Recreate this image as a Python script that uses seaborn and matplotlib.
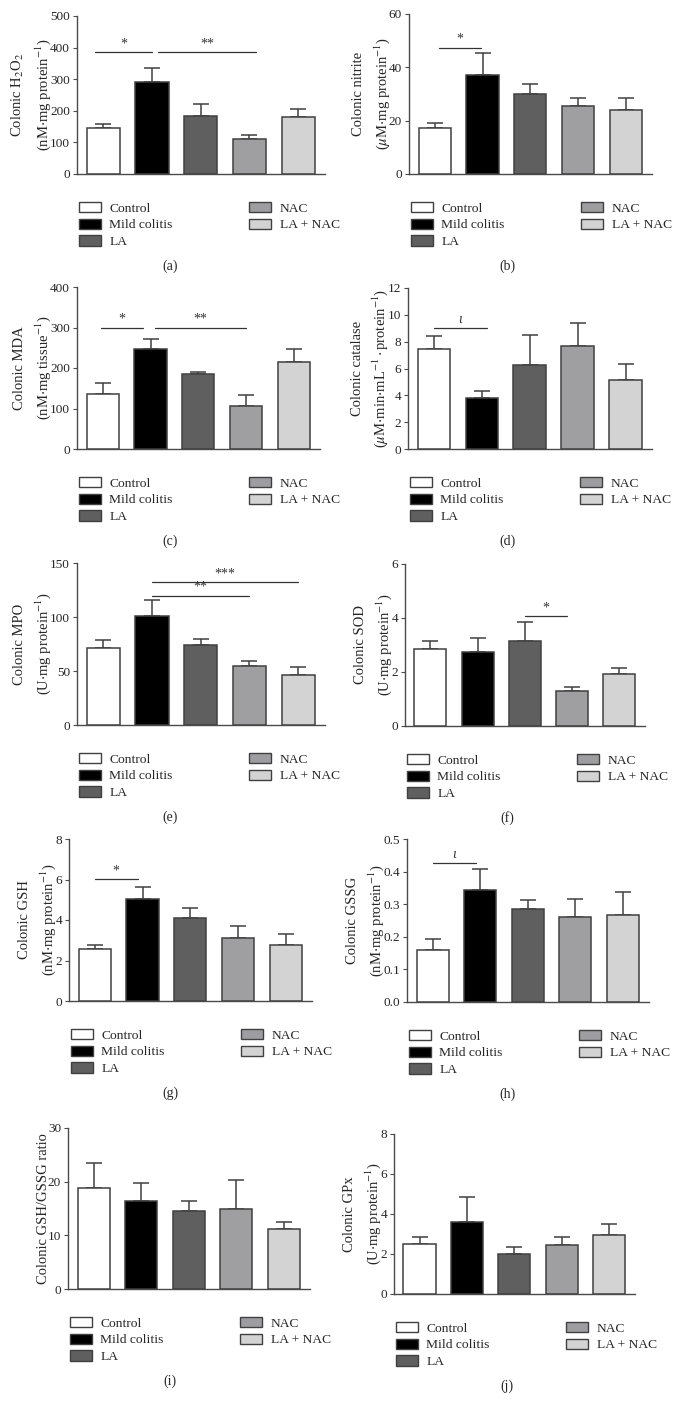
import numpy as np
import pandas as pd
import matplotlib
matplotlib.use("Agg")
import matplotlib.pyplot as plt
from matplotlib.patches import Patch
import seaborn as sns

groups = ["Control", "Mild colitis", "LA", "NAC", "LA + NAC"]
colors = ["#ffffff", "#000000", "#5f5f5f", "#9e9ea2", "#d3d3d3"]

# values (mean) and upper error bar ends
h2o2_mean = [147, 290, 185, 111, 179]
h2o2_top = [159, 337, 222, 124, 207]
nitrite_mean = [17.2, 37.2, 30.0, 25.5, 24.0]
nitrite_top = [19.0, 45.4, 33.9, 28.4, 28.5]
mda_mean = [137, 247, 184, 106, 216]
mda_top = [162, 272, 191, 133, 247]
catalase_mean = [7.45, 3.82, 6.27, 7.7, 5.15]
catalase_top = [8.45, 4.32, 8.5, 9.4, 6.35]
mpo_mean = [71.7, 100.8, 73.9, 54.6, 46.4]
mpo_top = [78.8, 115.3, 79.2, 59.0, 53.5]
sod_mean = [2.85, 2.73, 3.16, 1.28, 1.91]
sod_top = [3.16, 3.26, 3.85, 1.43, 2.15]
gsh_mean = [2.58, 5.04, 4.1, 3.13, 2.78]
gsh_top = [2.78, 5.65, 4.59, 3.7, 3.31]
gssg_mean = [0.160, 0.344, 0.284, 0.262, 0.268]
gssg_top = [0.193, 0.408, 0.314, 0.316, 0.336]
ratio_mean = [18.8, 16.4, 14.6, 14.9, 11.2]
ratio_top = [23.4, 19.7, 16.4, 20.3, 12.4]
gpx_mean = [2.49, 3.61, 2.01, 2.43, 2.94]
gpx_top = [2.86, 4.86, 2.36, 2.83, 3.51]

ylabels = [
    "Colonic H$_2$O$_2$\n(nM$\\cdot$mg protein$^{-1}$)",
    "Colonic nitrite\n($\\mu$M$\\cdot$mg protein$^{-1}$)",
    "Colonic MDA\n(nM$\\cdot$mg tissue$^{-1}$)",
    "Colonic catalase\n($\\mu$M$\\cdot$min$\\cdot$mL$^{-1}\\cdot$protein$^{-1}$)",
    "Colonic MPO\n(U$\\cdot$mg protein$^{-1}$)",
    "Colonic SOD\n(U$\\cdot$mg protein$^{-1}$)",
    "Colonic GSH\n(nM$\\cdot$mg protein$^{-1}$)",
    "Colonic GSSG\n(nM$\\cdot$mg protein$^{-1}$)",
    "Colonic GSH/GSSG ratio",
    "Colonic GPx\n(U$\\cdot$mg protein$^{-1}$)",
]
yticks = [
    [0, 100, 200, 300, 400, 500],
    [0, 20, 40, 60],
    [0, 100, 200, 300, 400],
    [0, 2, 4, 6, 8, 10, 12],
    [0, 50, 100, 150],
    [0, 2, 4, 6],
    [0, 2, 4, 6, 8],
    [0.0, 0.1, 0.2, 0.3, 0.4, 0.5],
    [0, 10, 20, 30],
    [0, 2, 4, 6, 8],
]
ytick_labels = [None] * 7 + [["0.0", "0.1", "0.2", "0.3", "0.4", "0.5"], None, None]
captions = ["(a)", "(b)", "(c)", "(d)", "(e)", "(f)", "(g)", "(h)", "(i)", "(j)"]
means = [h2o2_mean, nitrite_mean, mda_mean, catalase_mean, mpo_mean,
         sod_mean, gsh_mean, gssg_mean, ratio_mean, gpx_mean]
tops = [h2o2_top, nitrite_top, mda_top, catalase_top, mpo_top,
        sod_top, gsh_top, gssg_top, ratio_top, gpx_top]
# significance: (from, to, level, label)
sig = [
    [(-0.17, 1.0, 385, "*"), (1.13, 3.13, 385, "**")],
    [(0.08, 0.96, 47.3, "*")],
    [(-0.04, 0.85, 300, "*"), (1.09, 2.99, 300, "**")],
    [(0.0, 1.1, 9.0, "ι")],
    [(1.0, 4.0, 132, "***"), (1.0, 3.0, 119.5, "**")],
    [(2.0, 2.9, 4.07, "*")],
    [(0.0, 0.9, 6.02, "*")],
    [(0.0, 0.92, 0.426, "ι")],
    [],
    [],
]

# axes extents in pixels: left, right, top, bottom
boxes = [
    (77, 325, 16, 174), (409, 652, 14, 174),
    (77, 320, 287, 449), (408, 652, 288, 449),
    (77, 325, 563, 725), (405, 645, 564, 726),
    (69, 312, 839, 1001), (407, 649, 839, 1002),
    (68, 310, 1128, 1289), (394, 635, 1134, 1294),
]

W, H = 674, 1409
sns.set_theme(style="ticks")
plt.rcParams["font.family"] = ["Liberation Serif", "DejaVu Serif"]
plt.rcParams["mathtext.fontset"] = "stix"

fig = plt.figure(figsize=(W / 100, H / 100), dpi=100)
edge = "#404040"
spine_c = "#4a4a4a"

for k in range(10):
    l, r, t, b = boxes[k]
    ax = fig.add_axes([l / W, 1 - b / H, (r - l) / W, (b - t) / H])
    df = pd.DataFrame({"group": groups, "value": means[k]})
    sns.barplot(data=df, x="group", y="value", hue="group", order=groups,
                hue_order=groups, palette=colors, edgecolor=edge, linewidth=1.1,
                width=0.68, errorbar=None, legend=False, ax=ax, zorder=3)
    m = np.array(means[k], dtype=float)
    tp = np.array(tops[k], dtype=float)
    ax.errorbar(np.arange(5), m, yerr=[np.zeros(5), tp - m], fmt="none",
                ecolor=edge, elinewidth=1.1, capsize=6, capthick=1.1, zorder=2)
    ax.set_xlim(-0.54, 4.55)
    ax.set_ylim(yticks[k][0], yticks[k][-1])
    ax.set_yticks(yticks[k])
    if ytick_labels[k] is not None:
        ax.set_yticklabels(ytick_labels[k])
    ax.set_xticks([])
    ax.set_xlabel("")
    ax.set_ylabel(ylabels[k], fontsize=10.5, linespacing=1.5, labelpad=-2)
    ax.tick_params(axis="y", labelsize=9.5, length=3, width=0.8, color=spine_c, pad=2)
    for s in ["top", "right"]:
        ax.spines[s].set_visible(False)
    for s in ["left", "bottom"]:
        ax.spines[s].set_color(spine_c)
        ax.spines[s].set_linewidth(1.0)
    yr = yticks[k][-1] - yticks[k][0]
    for (x1, x2, yv, lab) in sig[k]:
        ax.plot([x1, x2], [yv, yv], color="#333333", lw=0.9, zorder=4, clip_on=False)
        ax.text((x1 + x2) / 2, yv + yr * 0.012, lab, ha="center", va="bottom",
                fontsize=10, color="#333333",
                style="italic" if lab == "ι" else "normal")
    handles = [Patch(facecolor=c, edgecolor=edge, linewidth=1.0) for c in colors]
    fig.legend(handles=handles, labels=groups, ncol=2, loc="upper left",
               bbox_to_anchor=((l + 2) / W, 1 - (b + 28) / H), frameon=False,
               fontsize=9.7, handlelength=1.6, handleheight=0.8,
               handletextpad=0.65, labelspacing=0.28, columnspacing=5.7,
               borderaxespad=0, borderpad=0)
    cx = 170 if k % 2 == 0 else 507
    fig.text(cx / W, 1 - (b + 92) / H, captions[k], ha="center", va="center",
             fontsize=10)

fig.savefig("out.png", dpi=100, facecolor="white")
